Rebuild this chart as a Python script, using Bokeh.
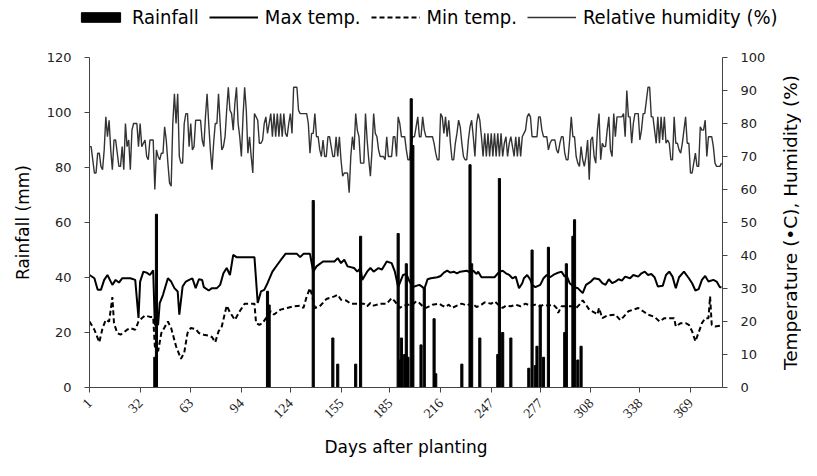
import math
from bokeh.plotting import figure
from bokeh.layouts import row, column
from bokeh.models import Range1d, LinearAxis, FixedTicker, Legend, LegendItem
from bokeh.core.properties import value
from bokeh.embed import file_html
from bokeh.resources import INLINE

# ---------------- data ----------------
x_ticks = [1, 32, 63, 94, 124, 155, 185, 216, 247, 277, 308, 338, 369]
left_ticks = [0, 20, 40, 60, 80, 100, 120]
right_ticks = [0, 10, 20, 30, 40, 50, 60, 70, 80, 90, 100]
right_title = ["Temperature (\u2022C), Humidity (%)"]
legend_labels = ["Rainfall", "Max temp.", "Min temp.", "Relative humidity (%)"]

# Relative humidity (%), daily, days 1..388
humidity = [
    73, 73, 69, 65, 65, 71, 71, 67, 66, 72,
    82, 76, 81, 72, 66, 75, 75, 71, 67, 67,
    73, 66, 80, 73, 75, 66, 78, 80, 80, 80,
    73, 80, 73, 74, 75, 70, 69, 75, 75, 75,
    60, 72, 70, 69, 71, 71, 79, 75, 68, 62,
    61, 80, 89, 80, 89, 70, 68, 68, 80, 83,
    83, 73, 80, 72, 73, 81, 81, 81, 81, 75,
    73, 82, 89, 80, 72, 66, 74, 80, 80, 89,
    80, 72, 73, 76, 84, 91, 84, 83, 78, 86,
    91, 80, 76, 70, 82, 91, 84, 71, 76, 70,
    65, 83, 82, 81, 74, 74, 75, 80, 82, 77,
    80, 83, 76, 83, 76, 83, 76, 83, 76, 83,
    77, 76, 80, 83, 77, 91, 91, 91, 84, 83,
    83, 83, 83, 83, 80, 71, 77, 77, 83, 76,
    76, 72, 70, 75, 70, 70, 76, 76, 73, 70,
    70, 76, 70, 76, 69, 64, 65, 65, 65, 59,
    70, 76, 72, 83, 78, 76, 68, 68, 68, 83,
    75, 69, 64, 72, 83, 77, 76, 72, 70, 70,
    70, 69, 76, 70, 70, 70, 76, 76, 70, 82,
    80, 76, 76, 76, 72, 69, 69, 74, 76, 76,
    79, 82, 76, 76, 82, 78, 76, 76, 76, 76,
    76, 74, 71, 69, 69, 83, 82, 77, 82, 76,
    81, 74, 69, 69, 74, 77, 81, 79, 74, 70,
    69, 69, 75, 79, 81, 76, 70, 80, 83, 81,
    76, 70, 77, 70, 77, 70, 77, 70, 77, 70,
    77, 70, 77, 70, 74, 76, 70, 74, 76, 73,
    70, 76, 70, 76, 70, 76, 77, 78, 82, 83,
    82, 76, 76, 76, 76, 82, 82, 78, 76, 76,
    76, 72, 74, 75, 75, 75, 72, 71, 74, 76,
    76, 71, 69, 69, 75, 82, 76, 76, 70, 68,
    67, 73, 69, 67, 70, 75, 63, 75, 76, 70,
    68, 78, 83, 69, 74, 73, 73, 78, 82, 72,
    70, 83, 76, 82, 82, 82, 82, 83, 76, 90,
    82, 82, 74, 80, 83, 83, 83, 75, 78, 83,
    83, 87, 91, 91, 82, 82, 78, 74, 82, 74,
    82, 75, 82, 74, 75, 74, 69, 69, 82, 74,
    74, 72, 71, 74, 78, 82, 74, 74, 65, 65,
    68, 71, 67, 67, 79, 78, 78, 81, 70, 76,
    76, 76, 73, 68, 67, 67, 67, 68,
]
hum_days = list(range(1, len(humidity) + 1))

# Max temperature (deg C) read at the line's turning points
tmax_days = [1, 4, 6, 8, 10, 12, 14, 15, 17, 19, 21, 26, 29, 31, 32, 34, 36, 38, 40, 41,
             43, 44, 46, 49, 51, 53, 55, 56, 58, 60, 62, 64, 66, 68, 70, 71, 74, 76, 79, 81,
             83, 85, 87, 89, 91, 102, 104, 106, 108, 110, 113, 116, 119, 121, 128, 130, 132, 136, 138, 140,
             144, 151, 153, 155, 157, 159, 163, 165, 167, 168, 171, 173, 175, 178, 180, 183, 186, 188, 190, 193,
             195, 197, 199, 201, 203, 205, 206, 208, 210, 214, 216, 218, 220, 222, 224, 226, 228, 232, 234, 236,
             238, 239, 241, 249, 252, 254, 256, 258, 260, 262, 264, 266, 267, 269, 271, 272, 274, 277, 279, 281,
             283, 285, 287, 290, 292, 293, 295, 298, 300, 303, 305, 308, 310, 313, 315, 317, 319, 321, 323, 325,
             327, 329, 332, 334, 337, 339, 341, 343, 345, 347, 349, 352, 354, 356, 358, 360, 362, 365, 368, 370,
             372, 374, 376, 378, 380, 383, 385, 387, 388]
tmax = [34.1, 33.1, 29.6, 29.6, 32.6, 34.1, 32.1, 31.1, 32.6, 31.8, 33.1, 33.1, 32.6, 21.1, 32.1, 35.1, 34.8, 34.1, 35.5, 19.0,
        19.0, 25.6, 28.1, 33.1, 32.1, 30.1, 29.1, 22.1, 30.6, 32.1, 32.6, 33.1, 30.1, 32.8, 32.6, 30.4, 29.4, 30.1, 30.1, 31.1,
        34.6, 36.2, 34.1, 40.2, 39.5, 39.5, 25.6, 29.1, 29.6, 31.6, 35.1, 37.2, 39.2, 40.5, 40.5, 39.5, 40.5, 40.5, 35.1, 36.7,
        38.2, 38.2, 39.2, 37.7, 38.7, 36.7, 36.2, 35.1, 36.2, 32.6, 35.1, 36.2, 35.1, 36.2, 35.7, 38.2, 37.7, 35.1, 30.4, 34.1,
        34.4, 32.1, 30.4, 30.8, 31.1, 30.4, 29.8, 32.8, 33.1, 33.4, 33.8, 34.8, 35.4, 34.8, 35.1, 34.6, 35.1, 35.4, 34.8, 35.4,
        34.4, 35.1, 33.4, 33.4, 35.1, 35.4, 34.6, 34.1, 33.1, 33.6, 30.1, 31.6, 33.1, 34.1, 32.6, 31.1, 30.4, 31.1, 33.1, 34.1,
        33.4, 34.1, 34.6, 35.1, 33.6, 34.1, 31.6, 30.4, 30.1, 28.6, 31.1, 32.1, 33.1, 32.8, 31.6, 31.1, 32.8, 31.6, 32.1, 32.8,
        32.4, 33.6, 33.1, 34.1, 33.6, 34.6, 35.1, 34.1, 34.4, 33.4, 30.6, 30.8, 34.1, 35.1, 33.6, 30.1, 33.4, 35.1, 33.1, 31.6,
        29.4, 29.8, 32.6, 33.8, 32.1, 32.6, 32.1, 30.4, 30.4]

# Min temperature (deg C) read at the line's turning points
tmin_days = [1, 4, 7, 9, 11, 13, 14, 15, 16, 18, 20, 22, 24, 26, 29, 31, 33, 35, 38, 40,
             41, 43, 45, 49, 51, 54, 57, 59, 61, 63, 66, 68, 71, 74, 76, 78, 80, 82, 85, 87,
             90, 93, 96, 102, 103, 105, 107, 109, 112, 114, 118, 122, 126, 130, 132, 134, 136, 138, 139, 142,
             146, 151, 153, 155, 158, 161, 169, 171, 173, 175, 179, 183, 186, 188, 191, 193, 196, 199, 201, 203,
             205, 207, 209, 211, 215, 217, 219, 221, 223, 226, 229, 232, 235, 238, 241, 243, 247, 249, 252, 254,
             256, 259, 262, 265, 268, 271, 274, 277, 279, 282, 285, 287, 288, 290, 297, 299, 301, 303, 305, 307,
             310, 312, 313, 315, 318, 323, 326, 328, 331, 334, 337, 340, 343, 347, 350, 353, 359, 360, 363, 366,
             368, 370, 372, 374, 376, 378, 380, 381, 382, 384, 387]
tmin = [20.0, 17.5, 13.7, 18.0, 20.5, 20.0, 23.6, 27.4, 19.5, 16.5, 16.0, 16.7, 17.5, 18.0, 17.5, 20.0, 21.0, 21.8, 21.4, 21.4,
        12.5, 11.0, 16.5, 20.0, 18.0, 12.5, 8.7, 10.5, 16.5, 18.0, 17.7, 16.5, 16.0, 15.7, 15.3, 13.7, 17.0, 18.5, 24.8, 22.8,
        20.5, 23.1, 25.4, 25.4, 19.5, 19.0, 19.5, 21.0, 23.1, 22.1, 23.6, 24.1, 24.6, 24.8, 24.1, 27.6, 30.1, 26.6, 24.1, 24.6,
        26.8, 27.6, 28.1, 26.6, 26.4, 25.4, 25.4, 24.6, 25.6, 24.8, 25.4, 25.4, 27.1, 26.1, 24.1, 24.8, 25.1, 25.1, 26.1, 25.6,
        24.6, 24.1, 24.6, 25.1, 25.4, 24.8, 24.4, 25.1, 24.1, 24.8, 25.4, 24.8, 25.6, 24.4, 25.1, 25.8, 25.4, 26.1, 24.8, 24.1,
        24.8, 24.6, 25.1, 24.6, 25.4, 24.8, 25.1, 24.6, 25.1, 24.8, 25.1, 24.1, 22.6, 24.6, 24.6, 24.1, 25.1, 26.4, 25.1, 23.6,
        22.8, 22.1, 24.1, 21.0, 21.8, 22.1, 20.4, 21.4, 23.1, 23.6, 24.1, 23.1, 22.1, 21.4, 20.0, 21.0, 21.0, 18.5, 19.5, 19.5,
        19.0, 17.0, 14.0, 16.7, 19.5, 21.0, 21.0, 27.6, 19.0, 18.5, 18.7]

# Rainfall (mm)
rain_days = [41, 42, 110, 111, 138, 150, 153, 164, 167, 190, 191, 192, 194, 195, 196, 198, 199,
             204, 206, 212, 213, 229, 234, 235, 240, 251, 252, 254, 259, 270, 272, 274, 275, 277,
             279, 282, 292, 293, 297, 298, 300, 302]
rain_mm = [11, 63, 35, 30, 68, 18, 8.5, 8.5, 55, 56, 10, 18, 12, 45, 11, 105, 88,
           15.5, 36, 25, 5, 8.5, 81, 45, 18, 12, 76, 20, 18, 7, 50, 8, 15, 30,
           11, 51, 20, 45, 55, 61, 10, 15]

axis_col = "#444444"
hum_style = dict(line_color="#333333", line_width=1.4)
max_style = dict(line_color="black", line_width=2)
min_style = dict(line_color="black", line_width=2, line_dash="5 3")
bar_style = dict(fill_color="black", line_color="black")

# ---------------- legend strip on top ----------------
# (the series are drawn again here only so the legend has glyphs; the x range
#  keeps them out of view)
p0 = figure(width=801, height=32, output_backend="svg", toolbar_location=None,
            x_range=Range1d(-3, -2), y_range=Range1d(0, 1), min_border=0)
p0.xaxis.visible = False
p0.yaxis.visible = False
p0.xgrid.visible = False
p0.ygrid.visible = False
p0.outline_line_color = None
l_bar = p0.vbar(x=rain_days, top=rain_mm, width=1.3, **bar_style)
l_max = p0.line(tmax_days, tmax, **max_style)
l_min = p0.line(tmin_days, tmin, **min_style)
l_hum = p0.line(hum_days, humidity, **hum_style)
legend = Legend(items=[
    LegendItem(label=legend_labels[0], renderers=[l_bar]),
    LegendItem(label=legend_labels[1], renderers=[l_max]),
    LegendItem(label=legend_labels[2], renderers=[l_min]),
    LegendItem(label=legend_labels[3], renderers=[l_hum]),
], orientation="horizontal", location=(76, 3))
legend.label_text_font = "DejaVu Sans Condensed"
legend.label_text_font_size = "20px"
legend.label_text_color = "black"
legend.glyph_width = 49
legend.glyph_height = 12
legend.label_standoff = 7
legend.spacing = 10
legend.padding = 0
legend.margin = 0
legend.border_line_color = None
legend.background_fill_alpha = 0
p0.add_layout(legend, "center")

# ---------------- main figure ----------------
p = figure(width=771, height=428, output_backend="svg", toolbar_location=None,
           x_range=Range1d(1, 388.6), y_range=Range1d(0, 120),
           min_border_left=89, min_border_right=49, min_border_top=25, min_border_bottom=72)
p.extra_y_ranges = {"right": Range1d(0, 100)}
p.xgrid.visible = False
p.ygrid.visible = False
p.outline_line_color = None

p.line(hum_days, humidity, y_range_name="right", **hum_style)
p.line(tmax_days, tmax, y_range_name="right", **max_style)
p.line(tmin_days, tmin, y_range_name="right", **min_style)
p.vbar(x=rain_days, top=rain_mm, bottom=0, width=1.3, **bar_style)

ya = p.yaxis[0]
ya.ticker = FixedTicker(ticks=left_ticks)
ya.axis_label = "Rainfall (mm)"
ra = LinearAxis(y_range_name="right", ticker=FixedTicker(ticks=right_ticks))
p.add_layout(ra, "right")
xa = p.xaxis[0]
xa.ticker = FixedTicker(ticks=x_ticks)
xa.axis_label = "Days after planting"
xa.major_label_orientation = math.pi / 4
xa.major_label_text_font = "Liberation Serif"
xa.major_label_text_font_size = "14px"

for ax in [ya, ra, xa]:
    ax.axis_line_color = axis_col
    ax.major_tick_line_color = axis_col
    ax.minor_tick_line_color = None
    ax.major_tick_in = 0
    ax.major_tick_out = 5
    ax.axis_label_text_font = "DejaVu Sans"
    ax.axis_label_text_font_size = "17px"
    ax.axis_label_text_font_style = "normal"
    ax.axis_label_text_color = "black"
    ax.major_label_text_color = "#222222"
for ax in [ya, ra]:
    ax.major_label_text_font = "DejaVu Sans"
    ax.major_label_text_font_size = "13px"
ya.major_label_standoff = 13
ra.major_label_standoff = 13
ya.axis_label_standoff = 11
xa.major_label_standoff = 8
xa.axis_label_standoff = 12

# ---------------- right-hand axis title (reads bottom to top) ----------------
p2 = figure(width=30, height=428, output_backend="svg", toolbar_location=None,
            x_range=Range1d(0, 30), y_range=Range1d(0, 1), min_border=0)
p2.xaxis.visible = False
p2.yaxis.visible = False
p2.xgrid.visible = False
p2.ygrid.visible = False
p2.outline_line_color = None
p2.text(x=[19], y=[0.5], text=right_title, angle=math.pi / 2,
        text_align="center", text_baseline="middle",
        text_font=value("DejaVu Sans"), text_font_size="18.5px", text_color="black")

layout = column(p0, row(p, p2, spacing=0), spacing=0)
open("out.html", "w").write(file_html(layout, INLINE))
